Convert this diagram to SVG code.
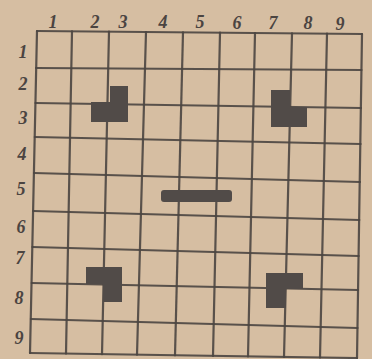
<svg xmlns="http://www.w3.org/2000/svg" width="372" height="359" viewBox="0 0 372 359">
<style>
.bg{fill:#d6bea2}
.grid line{stroke:#4c4642;stroke-width:2.2;stroke-linecap:round;opacity:0.9}
.piece{fill:#514b48}
.lbl{font-family:"Liberation Serif","DejaVu Serif",serif;font-style:italic;font-weight:bold;font-size:18px;fill:#4b4441;text-anchor:middle}
</style>
<rect class="bg" x="0" y="0" width="372" height="359"/>
<g id="grid" class="grid">
<line x1="37" y1="31" x2="362" y2="34"/>
<line x1="36" y1="68" x2="361.5" y2="70"/>
<line x1="35.5" y1="103" x2="361" y2="108"/>
<line x1="34.8" y1="137" x2="360.6" y2="144"/>
<line x1="34" y1="173" x2="360" y2="182"/>
<line x1="33.2" y1="211" x2="359.3" y2="220"/>
<line x1="32.4" y1="247" x2="358.7" y2="256"/>
<line x1="31.7" y1="283" x2="358" y2="290"/>
<line x1="30.9" y1="319" x2="357.5" y2="328"/>
<line x1="30" y1="353" x2="357" y2="358"/>
<line x1="37" y1="31" x2="30" y2="353"/>
<line x1="72" y1="31.3" x2="66" y2="353.6"/>
<line x1="109" y1="31.7" x2="102" y2="354.2"/>
<line x1="146" y1="32" x2="137" y2="354.7"/>
<line x1="183" y1="32.3" x2="175" y2="355.3"/>
<line x1="220" y1="32.7" x2="213" y2="355.9"/>
<line x1="255" y1="33" x2="248" y2="356.4"/>
<line x1="292" y1="33.4" x2="284" y2="357"/>
<line x1="327" y1="33.7" x2="320" y2="357.6"/>
<line x1="362" y1="34" x2="357" y2="358"/>
</g>
<g id="col-labels">
<text class="lbl" x="53" y="28">1</text>
<text class="lbl" x="95" y="28">2</text>
<text class="lbl" x="123" y="28">3</text>
<text class="lbl" x="163" y="28">4</text>
<text class="lbl" x="200" y="28">5</text>
<text class="lbl" x="237" y="29">6</text>
<text class="lbl" x="273" y="29">7</text>
<text class="lbl" x="308" y="29">8</text>
<text class="lbl" x="340" y="30">9</text>
</g>
<g id="row-labels">
<text class="lbl" x="23" y="58">1</text>
<text class="lbl" x="23" y="90">2</text>
<text class="lbl" x="23" y="124">3</text>
<text class="lbl" x="22" y="160">4</text>
<text class="lbl" x="21" y="195">5</text>
<text class="lbl" x="21" y="233">6</text>
<text class="lbl" x="20" y="264">7</text>
<text class="lbl" x="19" y="304">8</text>
<text class="lbl" x="19" y="344">9</text>
</g>
<g id="piece-top-left"><polygon class="piece" points="110,86 128,86 128,122 91,122 91,102 110,102"/></g>
<g id="piece-top-right"><polygon class="piece" points="271,90 290,90 290,107 307,107 307,127 271,127"/></g>
<g id="piece-center"><rect class="piece" x="161" y="190" width="71" height="12" rx="3"/></g>
<g id="piece-bottom-left"><polygon class="piece" points="86,267 122,267 122,302 103,302 103,284 86,284"/></g>
<g id="piece-bottom-right"><polygon class="piece" points="266,273 303,273 303,289 286,289 286,308 266,308"/></g>
</svg>
